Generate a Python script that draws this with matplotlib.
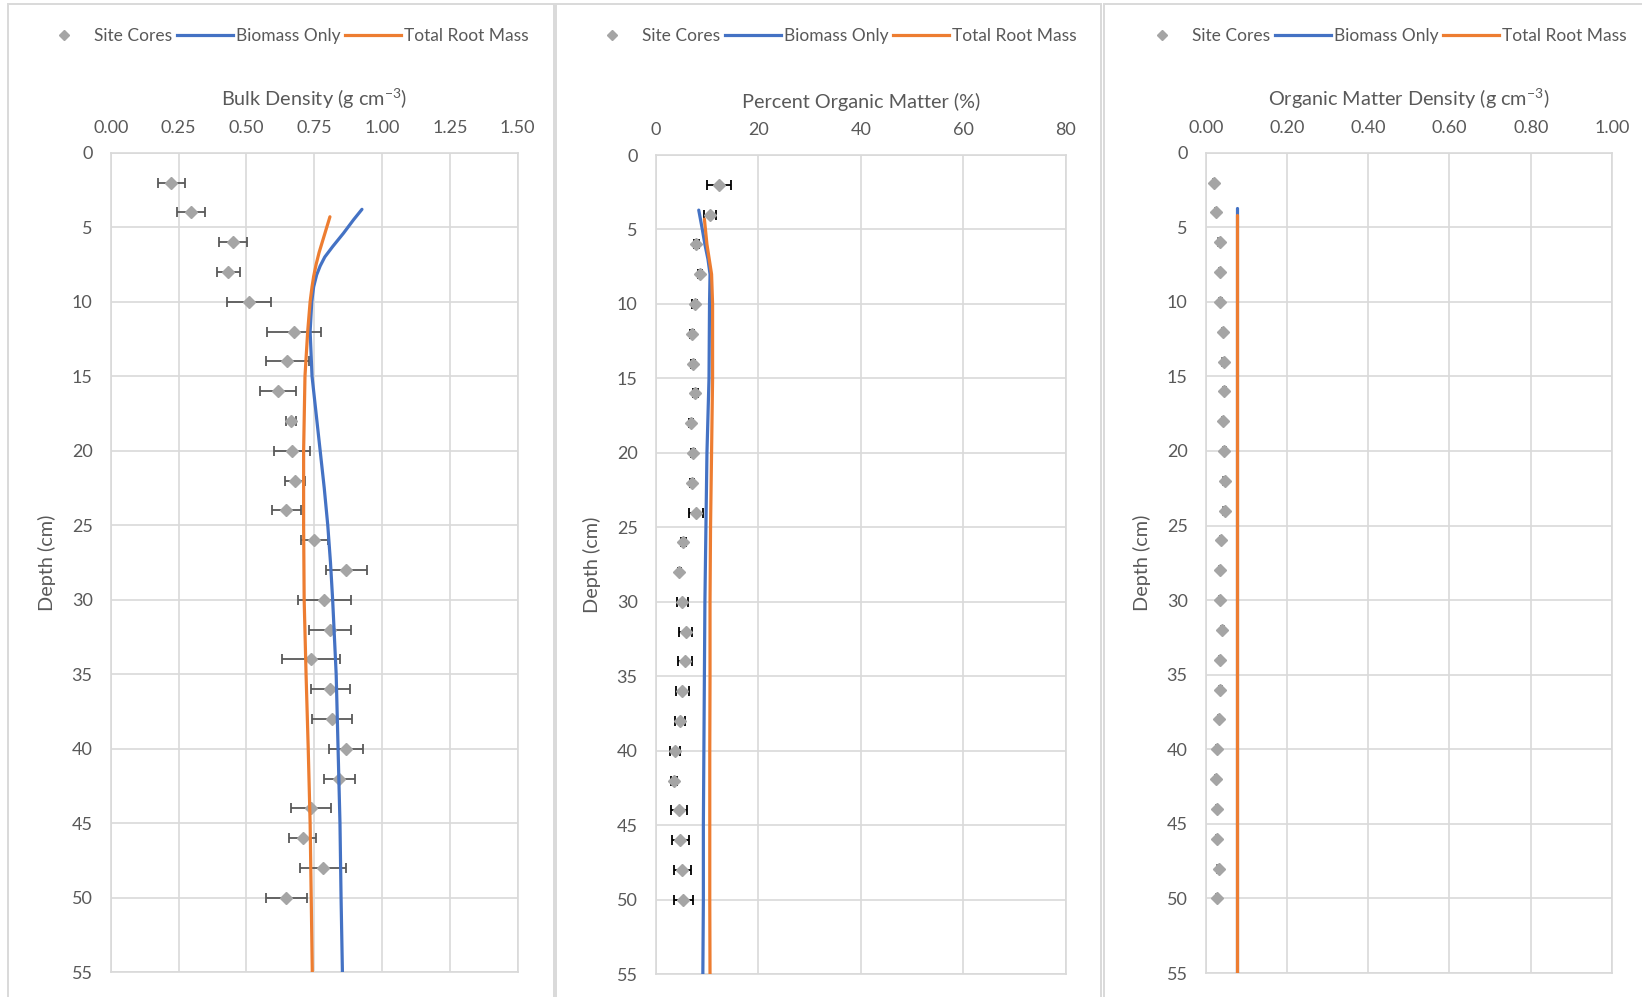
import matplotlib
matplotlib.use('Agg')
import matplotlib.pyplot as plt
from matplotlib.lines import Line2D
from matplotlib.patches import Rectangle

# ---- data ----
depth_cores = [2, 4, 6, 8, 10, 12, 14, 16, 18, 20, 22, 24, 26,
               28, 30, 32, 34, 36, 38, 40, 42, 44, 46, 48, 50]

# bulk density (g cm-3)
bd_cores = [0.224, 0.296, 0.450, 0.434, 0.509, 0.676, 0.651, 0.617, 0.664, 0.668, 0.680, 0.647, 0.750,
            0.868, 0.787, 0.808, 0.737, 0.810, 0.816, 0.868, 0.842, 0.739, 0.707, 0.783, 0.647]
bd_err = [0.051, 0.050, 0.051, 0.042, 0.082, 0.100, 0.080, 0.067, 0.019, 0.068, 0.037, 0.053, 0.050,
          0.076, 0.097, 0.077, 0.107, 0.073, 0.075, 0.062, 0.057, 0.074, 0.050, 0.086, 0.075]
bd_bio_depth = [3.8, 4.5, 5.4, 6.3, 7.0, 7.6, 8.2, 9.0, 10, 12, 15, 20, 22.5, 25, 27.5, 30,
                35, 40, 45, 50, 55]
bd_bio = [0.926, 0.895, 0.858, 0.818, 0.789, 0.772, 0.759, 0.748, 0.741, 0.735, 0.742, 0.772,
          0.787, 0.800, 0.810, 0.818, 0.831, 0.838, 0.845, 0.849, 0.854]
bd_root_depth = [4.3, 5.5, 6.7, 7.5, 8.3, 9.0, 10, 12, 15, 20, 25, 30, 35, 40, 45, 50, 55]
bd_root = [0.808, 0.788, 0.768, 0.757, 0.748, 0.742, 0.735, 0.726, 0.716, 0.711, 0.711, 0.713,
           0.720, 0.728, 0.735, 0.739, 0.743]

# percent organic matter (%)
om_cores = [12.3, 10.6, 7.9, 8.6, 7.6, 7.0, 7.2, 7.7, 6.9, 7.2, 7.1, 7.8, 5.4,
            4.6, 5.2, 5.85, 5.7, 5.2, 4.7, 3.8, 3.55, 4.5, 4.8, 5.2, 5.4]
om_err = [2.3, 1.1, 0.5, 0.4, 0.5, 0.4, 0.4, 0.5, 0.4, 0.4, 0.4, 1.4, 0.5,
          0.3, 1.1, 1.3, 1.3, 1.2, 1.0, 1.0, 0.6, 1.6, 1.6, 1.7, 1.8]
om_bio_depth = [3.7, 5, 6, 7, 8, 10, 15, 20, 25, 30, 35, 40, 45, 50, 55]
om_bio = [8.4, 9.1, 9.6, 10.2, 10.6, 10.5, 10.4, 10.0, 9.8, 9.6, 9.5, 9.4, 9.3, 9.3, 9.2]
om_root_depth = [4.3, 6, 8, 10, 15, 20, 25, 30, 35, 40, 45, 50, 55]
om_root = [9.5, 10.0, 10.9, 11.1, 11.1, 10.9, 10.7, 10.6, 10.6, 10.55, 10.55, 10.55, 10.6]

# organic matter density (g cm-3)
omd_cores = [0.020, 0.026, 0.034, 0.035, 0.036, 0.042, 0.044, 0.046, 0.043, 0.046, 0.047, 0.047, 0.038,
             0.035, 0.035, 0.041, 0.035, 0.036, 0.033, 0.028, 0.026, 0.028, 0.028, 0.032, 0.028]
omd_err = [0.002, 0.002, 0.003, 0.003, 0.003, 0.003, 0.003, 0.004, 0.003, 0.003, 0.004, 0.004, 0.003,
           0.002, 0.003, 0.004, 0.003, 0.003, 0.003, 0.003, 0.002, 0.003, 0.003, 0.003, 0.003]
omd_bio_depth = [3.7, 10, 20, 30, 40, 50, 55]
omd_bio = [0.077, 0.077, 0.077, 0.077, 0.077, 0.077, 0.077]
omd_root_depth = [4.2, 10, 20, 30, 40, 50, 55]
omd_root = [0.078, 0.078, 0.078, 0.078, 0.078, 0.078, 0.078]

# ---- style ----
plt.rcParams['font.family'] = ['Lato', 'DejaVu Sans']
plt.rcParams['mathtext.fontset'] = 'custom'
plt.rcParams['mathtext.rm'] = 'Lato'
TXT = '#595959'
GRID = '#D9D9D9'
BLUE = '#4472C4'
ORANGE = '#ED7D31'
MARK = '#A5A5A5'

W, H = 1642, 997
fig = plt.figure(figsize=(W / 100, H / 100), dpi=100)

# outer chart frames (left, right in pixels)
for x0, x1 in [(8, 554), (556, 1101), (1104, 1660)]:
    fig.add_artist(Rectangle((x0 / W, -0.05), (x1 - x0) / W, 1.05 - 4 / H,
                             transform=fig.transFigure, fill=False,
                             edgecolor=GRID, linewidth=1.4))

panels = [
    # plot box in pixels (left, top, right, bottom), legend centre x
    dict(box=(110.7, 152.7, 517.7, 972.3), leg_x=282,
         title='Bulk Density (g cm$^{-3}$)', xlim=(0, 1.5),
         xticks=[0, 0.25, 0.5, 0.75, 1.0, 1.25, 1.5], fmt='{:.2f}',
         cores=bd_cores, err=bd_err, ecol='#595959',
         bio=(bd_bio_depth, bd_bio), root=(bd_root_depth, bd_root)),
    dict(box=(655.7, 155.0, 1065.7, 974.3), leg_x=830,
         title='Percent Organic Matter (%)', xlim=(0, 80),
         xticks=[0, 20, 40, 60, 80], fmt='{:.0f}',
         cores=om_cores, err=om_err, ecol='#000000',
         bio=(om_bio_depth, om_bio), root=(om_root_depth, om_root)),
    dict(box=(1205.7, 152.7, 1612.0, 973.0), leg_x=1380,
         title='Organic Matter Density (g cm$^{-3}$)', xlim=(0, 1.0),
         xticks=[0, 0.2, 0.4, 0.6, 0.8, 1.0], fmt='{:.2f}',
         cores=omd_cores, err=omd_err, ecol='#7F7F7F',
         bio=(omd_bio_depth, omd_bio), root=(omd_root_depth, omd_root)),
]

for p in panels:
    l, t, r, b = p['box']
    ax = fig.add_axes([l / W, 1 - b / H, (r - l) / W, (b - t) / H])

    ax.errorbar(p['cores'], depth_cores, xerr=p['err'], fmt='D', color=MARK,
                markersize=6.3, ecolor=p['ecol'], elinewidth=1.3, capsize=3.3,
                capthick=1.3, zorder=3)
    ax.plot(p['bio'][1], p['bio'][0], color=BLUE, lw=2.3, zorder=4,
            solid_capstyle='round', solid_joinstyle='round')
    ax.plot(p['root'][1], p['root'][0], color=ORANGE, lw=2.3, zorder=5,
            solid_capstyle='round', solid_joinstyle='round')

    ax.set_xlim(*p['xlim'])
    ax.set_ylim(55, 0)
    ax.set_xticks(p['xticks'])
    ax.set_xticklabels([p['fmt'].format(v) for v in p['xticks']])
    ax.set_yticks(range(0, 56, 5))
    ax.xaxis.tick_top()
    ax.xaxis.set_label_position('top')
    ax.tick_params(length=0, labelsize=13, labelcolor=TXT)
    ax.tick_params(axis='x', pad=12)
    ax.tick_params(axis='y', pad=13)
    ax.grid(True, color=GRID, linewidth=1.2)
    ax.set_axisbelow(True)
    for s in ax.spines.values():
        s.set_color(GRID)
        s.set_linewidth(1.2)

    ax.set_xlabel(p['title'], fontsize=14.3, color=TXT, labelpad=10)
    ax.set_ylabel('Depth (cm)', fontsize=14.3, color=TXT, labelpad=11)

    handles = [
        Line2D([], [], marker='D', color=MARK, linestyle='none', markersize=5.5),
        Line2D([], [], color=BLUE, lw=2.3),
        Line2D([], [], color=ORANGE, lw=2.3),
    ]
    ax.legend(handles, ['Site Cores', 'Biomass Only', 'Total Root Mass'],
              loc='center', bbox_to_anchor=(p['leg_x'] / W, 1 - 36 / H),
              bbox_transform=fig.transFigure, ncol=3, frameon=False,
              fontsize=12.5, labelcolor=TXT, handlelength=3.2,
              handletextpad=0.15, columnspacing=0.3, borderaxespad=0)

fig.savefig('out.png', dpi=100)
